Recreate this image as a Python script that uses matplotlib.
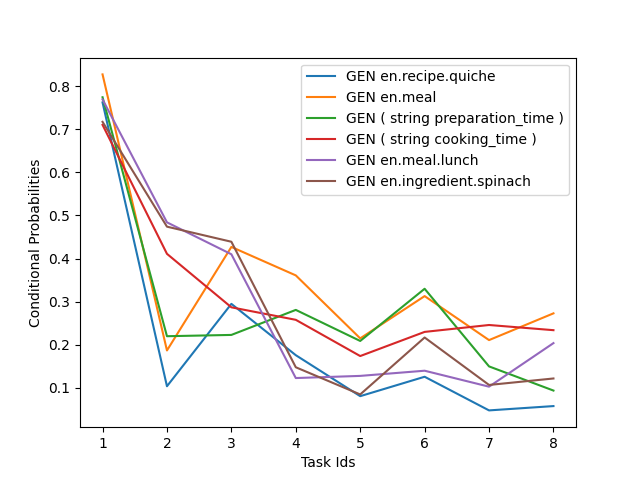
import matplotlib
matplotlib.use("Agg")
import matplotlib.pyplot as plt

task_ids = [1, 2, 3, 4, 5, 6, 7, 8]
labels = [
    "GEN en.recipe.quiche",
    "GEN en.meal",
    "GEN ( string preparation_time )",
    "GEN ( string cooking_time )",
    "GEN en.meal.lunch",
    "GEN en.ingredient.spinach",
]
quiche = [0.762, 0.104, 0.295, 0.176, 0.081, 0.126, 0.048, 0.058]
meal = [0.827, 0.187, 0.427, 0.361, 0.215, 0.313, 0.211, 0.273]
prep_time = [0.774, 0.220, 0.223, 0.281, 0.209, 0.330, 0.150, 0.094]
cook_time = [0.710, 0.411, 0.287, 0.258, 0.174, 0.230, 0.246, 0.234]
lunch = [0.769, 0.484, 0.410, 0.123, 0.128, 0.140, 0.103, 0.204]
spinach = [0.717, 0.474, 0.439, 0.148, 0.085, 0.217, 0.107, 0.122]
series = [quiche, meal, prep_time, cook_time, lunch, spinach]

fig, ax = plt.subplots(figsize=(6.4, 4.8), dpi=100)
for vals, lab in zip(series, labels):
    ax.plot(task_ids, vals, label=lab)
ax.set_xlabel("Task Ids")
ax.set_ylabel("Conditional Probabilities")
ax.legend(loc="upper right")
fig.savefig("out.png")
